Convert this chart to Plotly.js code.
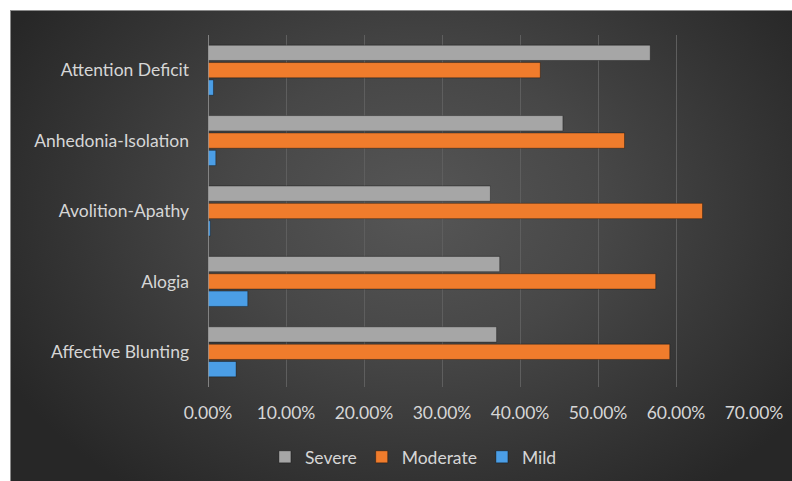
<!DOCTYPE html>
<html>
<head>
<meta charset="utf-8">
<script src="https://cdn.plot.ly/plotly-3.0.1.min.js"></script>
<style>
html,body{margin:0;padding:0;background:#fff;width:792px;height:481px;overflow:hidden;}
#bg{position:absolute;left:10px;top:10px;width:782px;height:471px;box-sizing:border-box;border-left:1px solid #8a8a8a;border-top:1px solid #8a8a8a;
background:radial-gradient(ellipse 60% 75% at 52% 42%, #565656 0%, #474747 40%, #343434 75%, #272727 100%);}
#chart{position:absolute;left:0;top:0;width:792px;height:481px;}
</style>
</head>
<body>
<div id="bg"></div>
<div id="chart"></div>
<script>
var categories = ["Affective Blunting", "Alogia", "Avolition-Apathy", "Anhedonia-Isolation", "Attention Deficit"];
var severe   = [0.370, 0.374, 0.362, 0.455, 0.567];
var moderate = [0.592, 0.574, 0.634, 0.534, 0.426];
var mild     = [0.036, 0.051, 0.003, 0.010, 0.007];
var seriesNames = ["Mild", "Moderate", "Severe"];
var xTickVals = [0, 0.1, 0.2, 0.3, 0.4, 0.5, 0.6, 0.7];

var colors = {Severe: "#a6a6a6", Moderate: "#f07c2c", Mild: "#4b9ee6"};
var data = [mild, moderate, severe];
var ranks = {Severe: 1, Moderate: 2, Mild: 3};

var traces = seriesNames.map(function(n, i){
  return {
    type: "bar", orientation: "h", name: n,
    y: categories, x: data[i],
    legendrank: ranks[n],
    marker: {color: colors[n], line: {color: "rgba(0,0,0,0.35)", width: 1}},
    hoverinfo: "x+y+name"
  };
});

var font = {family: "Lato, 'Open Sans', sans-serif", color: "#d6d6d6", size: 17.5};

var layout = {
  width: 792, height: 481,
  paper_bgcolor: "rgba(0,0,0,0)", plot_bgcolor: "rgba(0,0,0,0)",
  margin: {l: 208, r: 38, t: 35, b: 94, autoexpand: false},
  barmode: "group", bargap: 0.26, bargroupgap: 0.12,
  font: font,
  showlegend: true,
  legend: {orientation: "h", x: 0.522, xanchor: "center", xref: "container",
           y: 0.05, yanchor: "middle", yref: "container",
           font: font, bgcolor: "rgba(0,0,0,0)", itemwidth: 30, tracegroupgap: 0},
  xaxis: {range: [0, 0.7], tickvals: xTickVals, tickformat: ".2%",
          showgrid: true, gridcolor: "#5e5e5e", gridwidth: 1,
          zeroline: false, showline: false, ticks: "", ticklabelstandoff: 13,
          tickfont: font, fixedrange: true, automargin: false},
  yaxis: {categoryorder: "array", categoryarray: categories,
          showgrid: false, zeroline: false, showline: false,
          ticks: "", ticklabelstandoff: 18, tickfont: font, fixedrange: true, automargin: false},
  shapes: [{type: "line", xref: "x", yref: "paper", x0: 0, x1: 0, y0: 0, y1: 1,
            line: {color: "#9a9a9a", width: 1.5}}]
};

Plotly.newPlot("chart", traces, layout, {displayModeBar: false, staticPlot: true});
</script>
</body>
</html>
